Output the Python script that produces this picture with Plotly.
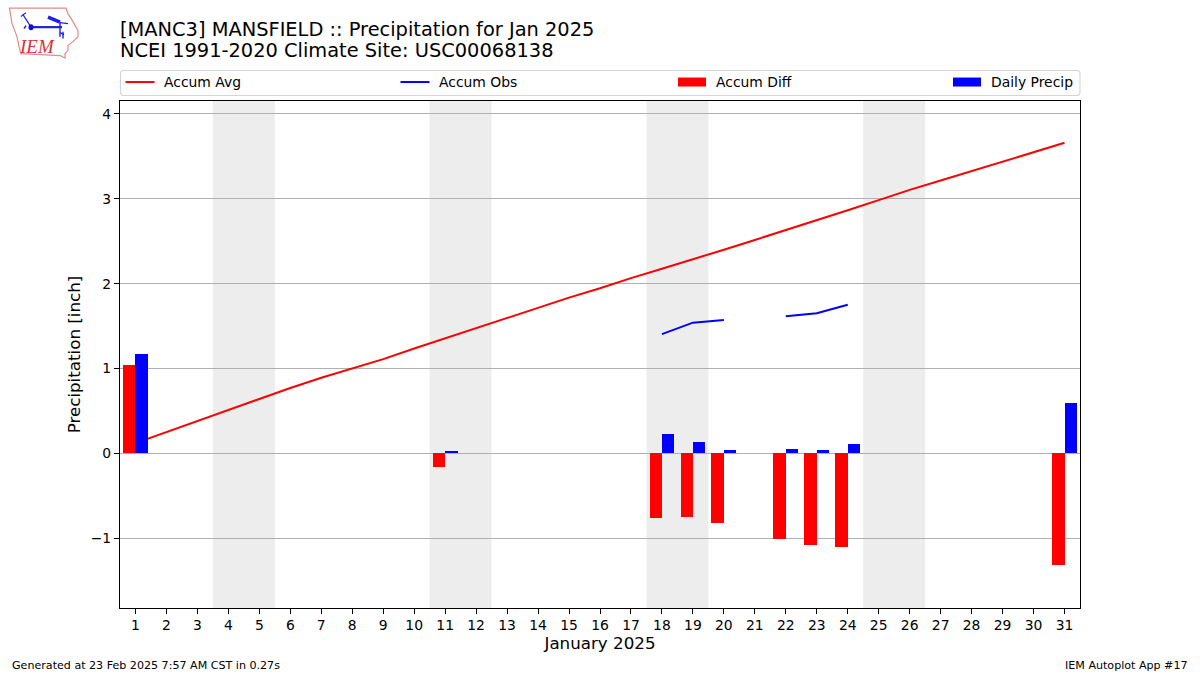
import plotly.graph_objects as go

W, H = 1200, 675
L, R, T, B = 120.0, 1080.0, 100.5, 608.5

days = list(range(1, 32))
accum_avg = [0.12, 0.25, 0.38, 0.51, 0.64, 0.77, 0.89, 1.00, 1.11, 1.235, 1.355, 1.475, 1.595, 1.715, 1.835, 1.945,
             2.065, 2.175, 2.285, 2.40, 2.515, 2.63, 2.745, 2.865, 2.985, 3.105, 3.215, 3.325, 3.435, 3.545, 3.66]
obs_days = [1, 11, 18, 19, 20, 22, 23, 24, 31]
accum_obs = [1.16, 1.18, 1.405, 1.54, 1.57, 1.615, 1.65, 1.75, 2.34]
accum_diff = [1.04, -0.165, -0.765, -0.753, -0.823, -1.012, -1.082, -1.106, -1.314]
daily_precip = [1.165, 0.025, 0.225, 0.13, 0.035, 0.05, 0.035, 0.105, 0.59]
weekends = [(3.5, 5.5), (10.5, 12.5), (17.5, 19.5), (24.5, 26.5)]
y_ticks = [-1, 0, 1, 2, 3, 4]
y_tick_labels = ["\u22121", "0", "1", "2", "3", "4"]
x_range = [0.5, 31.5]
y_range = [-1.824, 4.153]
legend_names = ["Accum Avg", "Accum Obs", "Accum Diff", "Daily Precip"]
legend_colors = ["#ff0000", "#0000ff", "#ff0000", "#0000ff"]
legend_kinds = ["line", "line", "bar", "bar"]
legend_swatch_x = [125.5, 400.5, 678, 953]
legend_text_x = [161.5, 437, 714, 989]

FONT = "DejaVu Sans"


def obs_series():
    return [accum_obs[obs_days.index(d)] if d in obs_days else None for d in days]


def px(x):
    return (x - L) / (R - L)


def py(y):
    return (B - y) / (B - T)


def path(points, close=False):
    s = "M" + " L".join(f"{px(x):.5f},{py(y):.5f}" for x, y in points)
    return s + (" Z" if close else "")


fig = go.Figure()
fig.add_trace(go.Scatter(x=days, y=accum_avg, mode="lines", name=legend_names[0],
                         line=dict(color=legend_colors[0], width=2)))
fig.add_trace(go.Scatter(x=days, y=obs_series(), mode="lines", name=legend_names[1],
                         line=dict(color=legend_colors[1], width=2), connectgaps=False))
fig.add_trace(go.Bar(x=obs_days, y=accum_diff, name=legend_names[2], marker=dict(color=legend_colors[2], line_width=0),
                     width=0.4, offset=-0.4, xaxis="x2", yaxis="y2"))
fig.add_trace(go.Bar(x=obs_days, y=daily_precip, name=legend_names[3], marker=dict(color=legend_colors[3], line_width=0),
                     width=0.4, offset=0, xaxis="x2", yaxis="y2"))

shapes = [dict(type="rect", xref="x", yref="paper", x0=a, x1=b, y0=0, y1=1, layer="below",
               fillcolor="#ededed", line_width=0) for a, b in weekends]

# logo
logo_outline = [(9.5, 7.5), (66, 7.5), (68, 13), (73, 21), (78, 30), (78, 36), (73, 41), (68, 45), (68, 50),
                (65, 53), (65, 57.5), (60, 55), (21, 53), (19, 46), (17, 36), (12, 23)]
shapes.append(dict(type="path", xref="paper", yref="paper", path=path(logo_outline, True),
                   line=dict(color="#e58a8a", width=1.2), fillcolor="rgba(0,0,0,0)", layer="above"))
for seg, w in [([(31, 26.5), (62, 26.5)], 2.2), ([(31, 26.5), (23, 14)], 1.2), ([(23, 14), (21, 16)], 1.2),
               ([(23, 14), (26, 12)], 1.2), ([(60, 22), (60, 36)], 1.4), ([(60, 32), (64, 34)], 1.2),
               ([(48, 16.5), (60, 21.5)], 3.5), ([(60, 22), (68, 23)], 1.2), ([(63, 31), (63, 38)], 1.4),
               ([(24, 28), (26, 25)], 1.5)]:
    shapes.append(dict(type="path", xref="paper", yref="paper", path=path(seg),
                       line=dict(color="#2020e0", width=w), layer="above"))
shapes.append(dict(type="circle", xref="paper", yref="paper", x0=px(28.5), x1=px(33.5), y0=py(29.5), y1=py(23.5),
                   fillcolor="#1010d0", line_width=0, layer="above"))

# legend frame with rounded corners
lx0, lx1, ly0, ly1, r = 120.5, 1080, 70, 95, 3
shapes.append(dict(type="path", xref="paper", yref="paper", layer="above", fillcolor="white",
                   line=dict(color="#d4d4d4", width=1.1),
                   path=(f"M{px(lx0 + r):.5f},{py(ly0):.5f} L{px(lx1 - r):.5f},{py(ly0):.5f} "
                         f"Q{px(lx1):.5f},{py(ly0):.5f} {px(lx1):.5f},{py(ly0 + r):.5f} "
                         f"L{px(lx1):.5f},{py(ly1 - r):.5f} Q{px(lx1):.5f},{py(ly1):.5f} {px(lx1 - r):.5f},{py(ly1):.5f} "
                         f"L{px(lx0 + r):.5f},{py(ly1):.5f} Q{px(lx0):.5f},{py(ly1):.5f} {px(lx0):.5f},{py(ly1 - r):.5f} "
                         f"L{px(lx0):.5f},{py(ly0 + r):.5f} Q{px(lx0):.5f},{py(ly0):.5f} {px(lx0 + r):.5f},{py(ly0):.5f} Z")))

annotations = [
    dict(text="[MANC3] MANSFIELD :: Precipitation for Jan 2025", xref="paper", yref="paper", x=px(118), y=py(28.5),
         xanchor="left", yanchor="middle", showarrow=False, font=dict(family=FONT, size=19.4, color="black")),
    dict(text="NCEI 1991-2020 Climate Site: USC00068138", xref="paper", yref="paper", x=px(118), y=py(50),
         xanchor="left", yanchor="middle", showarrow=False, font=dict(family=FONT, size=19.4, color="black")),
    dict(text="Generated at 23 Feb 2025 7:57 AM CST in 0.27s", xref="paper", yref="paper", x=px(10), y=py(666.5),
         xanchor="left", yanchor="middle", showarrow=False, font=dict(family=FONT, size=11.1, color="black")),
    dict(text="IEM Autoplot App #17", xref="paper", yref="paper", x=px(1190), y=py(666.5),
         xanchor="right", yanchor="middle", showarrow=False, font=dict(family=FONT, size=11.1, color="black")),
    dict(text="<i>IEM</i>", xref="paper", yref="paper", x=px(37), y=py(45.5), xanchor="center", yanchor="middle",
         showarrow=False, font=dict(family="Liberation Serif", size=19, color="#d8333a")),
]

for name, color, kind, sx, tx in zip(legend_names, legend_colors, legend_kinds, legend_swatch_x, legend_text_x):
    if kind == "line":
        shapes.append(dict(type="line", xref="paper", yref="paper", x0=px(sx), x1=px(sx + 29), y0=py(81.5), y1=py(81.5),
                           line=dict(color=color, width=2), layer="above"))
    else:
        shapes.append(dict(type="rect", xref="paper", yref="paper", x0=px(sx), x1=px(sx + 28), y0=py(86), y1=py(77),
                           fillcolor=color, line_width=0, layer="above"))
    annotations.append(dict(text=name, xref="paper", yref="paper", x=px(tx), y=py(81), xanchor="left",
                            yanchor="middle", showarrow=False, font=dict(family=FONT, size=13.9, color="black")))

axis_common = dict(showline=True, linecolor="black", linewidth=1.1, mirror=True, ticks="outside", ticklen=5,
                   tickwidth=1.1, tickcolor="black", tickfont=dict(family=FONT, size=13.9, color="black"))

fig.update_layout(
    width=W, height=H, autosize=False, margin=dict(l=L, r=W - R, t=T, b=H - B, pad=0),
    paper_bgcolor="white", plot_bgcolor="white", barmode="overlay", showlegend=False,
    font=dict(family=FONT, color="black"), shapes=shapes, annotations=annotations,
    xaxis=dict(range=x_range, tickmode="array", tickvals=days, ticktext=[str(d) for d in days], showgrid=False,
               zeroline=False, ticklabelstandoff=-1,
               title=dict(text="January 2025", font=dict(family=FONT, size=16.7), standoff=4),
               **axis_common),
    yaxis=dict(range=y_range, tickmode="array", tickvals=y_ticks, ticktext=y_tick_labels, showgrid=True,
               gridcolor="#b0b0b0", gridwidth=1.1, zeroline=False,
               title=dict(text="Precipitation [inch]", font=dict(family=FONT, size=16.7), standoff=5),
               **axis_common),
    xaxis2=dict(range=x_range, overlaying="x", visible=False),
    yaxis2=dict(range=y_range, overlaying="y", visible=False),
    bargap=0,
)

fig.write_html("out.html", config={"displayModeBar": False},
               post_script="document.body.style.margin='0';document.body.style.overflow='hidden';")
